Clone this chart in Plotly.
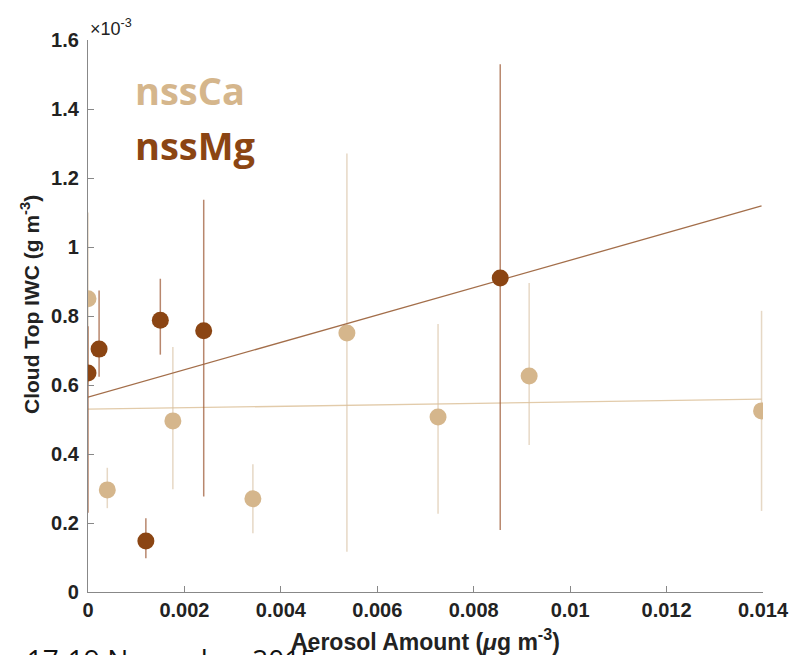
import plotly.graph_objects as go

# nssCa (tan) — values in units of 1e-3 g m^-3
ca_x = [0.0, 0.0004, 0.00176, 0.00342, 0.00537, 0.00726, 0.00915, 0.01397]
ca_y = [0.85, 0.296, 0.496, 0.27, 0.751, 0.507, 0.626, 0.525]
ca_err_plus = [0.25, 0.064, 0.214, 0.10, 0.52, 0.27, 0.27, 0.29]
ca_err_minus = [0.25, 0.053, 0.198, 0.10, 0.634, 0.28, 0.20, 0.29]

# nssMg (brown)
mg_x = [0.0, 0.00023, 0.0012, 0.0015, 0.0024, 0.00855]
mg_y = [0.635, 0.704, 0.148, 0.788, 0.757, 0.91]
mg_err_plus = [0.135, 0.17, 0.066, 0.12, 0.38, 0.62]
mg_err_minus = [0.405, 0.08, 0.05, 0.10, 0.48, 0.73]

# fitted lines
fit_x = [0.0, 0.01397]
ca_fit = [0.530, 0.559]
mg_fit = [0.565, 1.119]

x_ticks = [0, 0.002, 0.004, 0.006, 0.008, 0.01, 0.012, 0.014]
x_ticktext = ["0", "0.002", "0.004", "0.006", "0.008", "0.01", "0.012", "0.014"]
y_ticks = [0, 0.2, 0.4, 0.6, 0.8, 1.0, 1.2, 1.4, 1.6]
y_ticktext = ["0", "0.2", "0.4", "0.6", "0.8", "1", "1.2", "1.4", "1.6"]

CA = "#D5B68C"
MG = "#8B4513"
FONT = "Liberation Sans, Arial, sans-serif"

fig = go.Figure()

fig.add_trace(go.Scatter(
    x=fit_x, y=ca_fit, mode="lines",
    line=dict(color="#E2CBAA", width=1.4), showlegend=False, hoverinfo="skip"))
fig.add_trace(go.Scatter(
    x=ca_x, y=ca_y, mode="markers",
    marker=dict(size=17, color=CA),
    error_y=dict(type="data", symmetric=False, array=ca_err_plus,
                 arrayminus=ca_err_minus, color="rgba(214,190,158,0.6)",
                 thickness=1.5, width=0),
    showlegend=False))
fig.add_trace(go.Scatter(
    x=fit_x, y=mg_fit, mode="lines",
    line=dict(color="#A36E4A", width=1.3), showlegend=False, hoverinfo="skip"))
fig.add_trace(go.Scatter(
    x=mg_x, y=mg_y, mode="markers",
    marker=dict(size=17, color=MG),
    error_y=dict(type="data", symmetric=False, array=mg_err_plus,
                 arrayminus=mg_err_minus, color="rgba(160,95,60,0.75)",
                 thickness=1.5, width=0),
    showlegend=False))

tickfont = dict(family=FONT, size=20, color="#222222", weight="bold")

fig.update_layout(
    width=812, height=655,
    margin=dict(l=88, r=49, t=40, b=63, autoexpand=False),
    paper_bgcolor="white", plot_bgcolor="white",
    xaxis=dict(range=[0, 0.014], tickvals=x_ticks, ticktext=x_ticktext,
               automargin=False,
               showgrid=False, zeroline=False, showline=True, linecolor="#888888",
               linewidth=1.2, ticks="inside", ticklen=6, tickcolor="#888888",
               tickfont=tickfont),
    yaxis=dict(range=[0, 1.6], tickvals=y_ticks, ticktext=y_ticktext,
               automargin=False, ticklabelstandoff=4,
               showgrid=False, zeroline=False, showline=True, linecolor="#888888",
               linewidth=1.2, ticks="inside", ticklen=6, tickcolor="#888888",
               tickfont=tickfont),
    annotations=[
        dict(text="a 17-19 November 2015", xref="paper", yref="paper",
             x=-0.127, y=0, xanchor="left", yanchor="top", showarrow=False,
             yshift=-46,
             font=dict(family="Open Sans, sans-serif", size=28, color="#111111")),
        dict(text="<b>Aerosol Amount (<i>μ</i>g m<sup>-3</sup>)</b>",
             xref="paper", yref="paper", x=0.5, y=0, xanchor="center",
             yanchor="middle", yshift=-48, showarrow=False,
             font=dict(family=FONT, size=23, color="#222222")),
        dict(text="<b>Cloud Top IWC (g m<sup>-3</sup>)</b>", textangle=-90,
             xref="paper", yref="paper", x=0, y=0.52, xanchor="center",
             yanchor="middle", xshift=-58, showarrow=False,
             font=dict(family=FONT, size=21, color="#222222")),
        dict(text="×10<sup>-3</sup>", xref="paper", yref="paper", x=0.0, y=1.0,
             xanchor="left", yanchor="bottom", showarrow=False, xshift=0, yshift=-1,
             font=dict(family=FONT, size=18, color="#222222")),
        dict(text="<b>nssCa</b>", xref="paper", yref="paper", x=0.066, y=0.909,
             xanchor="left", yanchor="middle", showarrow=False,
             font=dict(family="Open Sans, sans-serif", size=38, color=CA)),
        dict(text="<b>nssMg</b>", xref="paper", yref="paper", x=0.066, y=0.81,
             xanchor="left", yanchor="middle", showarrow=False,
             font=dict(family="Open Sans, sans-serif", size=38, color=MG)),
    ],
)

fig.write_html("out.html", config={"displayModeBar": False},
               post_script="document.body.style.margin='0';document.body.style.overflow='hidden';")
